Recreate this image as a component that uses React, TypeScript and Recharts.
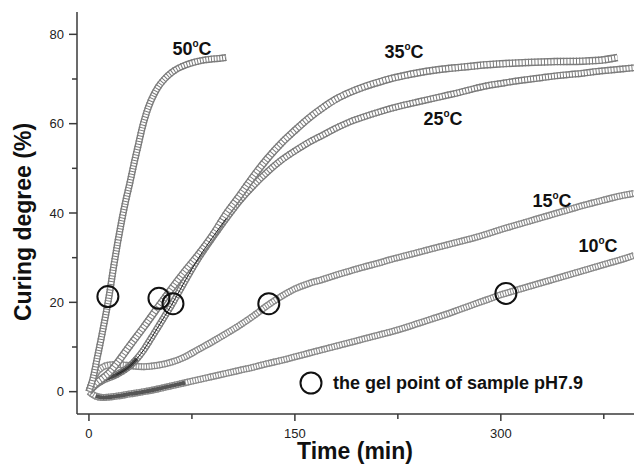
import React from 'react';
import { ComposedChart, Line, Scatter, XAxis, YAxis } from 'recharts';

// ---- data (time in min, curing degree in %) ----
const t50 = [0, 3, 6, 9, 12, 15, 18, 21, 24, 27, 30, 33, 36, 39, 42, 45, 50, 55, 60, 65, 70, 75, 80, 85, 90, 95, 100];
const c50 = [0, 3, 7.5, 12, 16.8, 22, 28, 33.5, 38.5, 43, 47, 51.3, 55.3, 59.3, 62.5, 65.0, 68.0, 70.0, 71.4, 72.4, 73.1, 73.6, 74.0, 74.3, 74.5, 74.6, 74.8];

const t35 = [0, 5, 10, 15, 20, 30, 40, 50, 60, 70, 80, 90, 100, 110, 120, 130, 140, 150, 160, 170, 180, 190, 200, 210, 220, 230, 240, 250, 260, 270, 280, 290, 300, 320, 340, 360, 375, 385];
const c35 = [0, 1.8, 3.0, 4.3, 6.2, 10.4, 14.5, 18.8, 23.0, 27.0, 30.8, 35.0, 39.8, 44.0, 48.3, 52.2, 55.6, 58.5, 61.2, 63.5, 65.5, 67.0, 68.2, 69.2, 70.1, 70.8, 71.4, 71.9, 72.3, 72.6, 72.9, 73.2, 73.4, 73.7, 73.9, 74.0, 74.3, 74.8];

const t25 = [0, 5, 10, 20, 30, 35, 40, 45, 50, 55, 60, 70, 80, 90, 100, 110, 120, 130, 140, 150, 160, 170, 180, 190, 200, 210, 220, 230, 240, 250, 260, 270, 280, 290, 300, 310, 320, 330, 340, 350, 360, 370, 380, 390, 397];
const c25 = [0, 1.5, 2.5, 3.8, 5.8, 7.4, 9.4, 11.8, 14.3, 16.8, 19.3, 24.8, 30.0, 34.5, 38.8, 42.8, 46.2, 49.2, 51.8, 53.9, 55.8, 57.4, 59.0, 60.4, 61.5, 62.5, 63.4, 64.2, 64.9, 65.6, 66.3, 67.0, 67.8, 68.5, 69.0, 69.5, 69.9, 70.3, 70.7, 71.0, 71.3, 71.7, 72.0, 72.3, 72.5];

const t15 = [0, 5, 10, 15, 20, 25, 30, 40, 50, 60, 70, 80, 90, 100, 110, 120, 130, 140, 150, 160, 170, 180, 190, 200, 210, 220, 230, 240, 250, 260, 270, 280, 290, 300, 310, 320, 330, 340, 350, 360, 370, 380, 390, 397];
const c15 = [0, 4.0, 5.5, 6.0, 6.1, 6.0, 5.8, 5.6, 5.9, 6.6, 7.8, 9.5, 11.2, 13.0, 14.9, 17.0, 19.3, 21.3, 23.0, 24.2, 25.1, 26.1, 27.0, 27.9, 28.7, 29.6, 30.4, 31.2, 32.0, 32.8, 33.6, 34.4, 35.3, 36.3, 37.2, 38.1, 39.0, 39.9, 40.8, 41.7, 42.5, 43.3, 44.0, 44.4];

const t10 = [0, 5, 10, 20, 30, 40, 50, 60, 70, 80, 90, 100, 110, 120, 130, 140, 150, 160, 170, 180, 190, 200, 210, 220, 230, 240, 250, 260, 270, 280, 290, 300, 310, 320, 330, 340, 350, 360, 370, 380, 390, 397];
const c10 = [0, -1.0, -1.3, -1.0, -0.5, 0, 0.6, 1.3, 2.0, 2.7, 3.4, 4.1, 4.8, 5.5, 6.3, 7.0, 7.8, 8.6, 9.4, 10.2, 11.0, 11.8, 12.6, 13.4, 14.3, 15.3, 16.3, 17.3, 18.4, 19.5, 20.6, 21.7, 22.6, 23.5, 24.4, 25.3, 26.2, 27.1, 28.0, 28.9, 29.8, 30.5];

const gelT = [13.8, 51, 61.2, 131, 303.7];
const gelV = [21.3, 20.9, 19.7, 19.7, 22];

const xTicks = [0, 75, 150, 225, 300, 375];
const xLabels = [0, 150, 300];
const yTicks = [0, 10, 20, 30, 40, 50, 60, 70, 80];
const yLabels = [0, 20, 40, 60, 80];

const zip = (ts: number[], vs: number[]) => ts.map((t, i) => ({ t, v: vs[i] }));
const d50 = zip(t50, c50);
const d35 = zip(t35, c35);
const d25 = zip(t25, c25);
const d15 = zip(t15, c15);
const d10 = zip(t10, c10);
const gel = zip(gelT, gelV);
const d10dark = d10.filter((p) => p.t >= 5 && p.t <= 70);
const d25dark = d25.filter((p) => p.t >= 5 && p.t <= 35);
const d25thin = d25.filter((p) => p.t >= 20 && p.t <= 100);

const FONT = '"Liberation Sans", Arial, sans-serif';
const AXIS = '#3a3a3a';

function XTick(props: any) {
  const { x, y, payload } = props;
  const major = xLabels.includes(payload.value);
  return (
    <g>
      <line x1={x} x2={x} y1={y} y2={y + (major ? 7 : 5)} stroke={AXIS} strokeWidth={1.5} />
      {major && (
        <text x={x} y={y + 24} textAnchor="middle" fontSize={13} fill="#222" fontFamily={FONT}>
          {payload.value}
        </text>
      )}
    </g>
  );
}

function YTick(props: any) {
  const { x, y, payload } = props;
  const major = yLabels.includes(payload.value);
  return (
    <g>
      <line x1={x - (major ? 8 : 5)} x2={x} y1={y} y2={y} stroke={AXIS} strokeWidth={1.5} />
      {major && (
        <text x={x - 13} y={y + 4.5} textAnchor="end" fontSize={13} fill="#222" fontFamily={FONT}>
          {payload.value}
        </text>
      )}
    </g>
  );
}

function chain(id: string, data: any[], col: string, dash: string, w: number) {
  const common = { data, dataKey: 'v', type: 'monotone' as const, dot: false, activeDot: false, isAnimationActive: false, legendType: 'none' as const };
  return [
    <Line key={id + 'a'} name={id + 'a'} {...common} stroke={col} strokeWidth={w} />,
    <Line key={id + 'b'} name={id + 'b'} {...common} stroke="#ffffff" strokeWidth={w - 2.8} />,
    <Line key={id + 'c'} name={id + 'c'} {...common} stroke={col} strokeWidth={w} strokeDasharray={dash} />,
  ];
}

const GelCircle = (props: any) => {
  const { cx, cy } = props;
  return <circle cx={cx} cy={cy} r={10.5} fill="none" stroke="#111" strokeWidth={2} />;
};

function TempLabel({ x, y, t }: { x: number; y: number; t: string }) {
  return (
    <text x={x} y={y} textAnchor="middle" fontSize={18} fontWeight="bold" fill="#111" fontFamily={FONT}>
      {t}
      <tspan fontSize={10} dy={-8}>o</tspan>
      <tspan dy={8}>C</tspan>
    </text>
  );
}

export default function App() {
  return (
    <div style={{ position: 'absolute', left: 0, top: 0, width: 634, height: 470, background: '#fff' }}>
      <ComposedChart width={634} height={470} margin={{ top: 12, right: 0, bottom: 0, left: 0 }}>
        <XAxis
          type="number"
          dataKey="t"
          domain={[-8.7, 397]}
          allowDataOverflow
          ticks={xTicks}
          tick={<XTick />}
          tickSize={0}
          tickMargin={0}
          tickLine={false}
          axisLine={{ stroke: AXIS, strokeWidth: 1.5 }}
          height={56}
          interval={0}
        />
        <YAxis
          type="number"
          dataKey="v"
          domain={[-5, 85]}
          allowDataOverflow
          ticks={yTicks}
          tick={<YTick />}
          tickSize={0}
          tickMargin={0}
          tickLine={false}
          axisLine={{ stroke: AXIS, strokeWidth: 1.5 }}
          width={77}
          interval={0}
        />
        {chain('c10', d10, '#8a8a8a', '1 1.6', 7)}
        <Line data={d10dark} dataKey="v" name="c10dark" type="monotone" dot={false} activeDot={false} stroke="#555" strokeWidth={4} isAnimationActive={false} legendType="none" />
        {chain('c15', d15, '#8a8a8a', '1 1.6', 7)}
        {chain('c25', d25, '#7c7c7c', '1 2', 7)}
        <Line data={d25dark} dataKey="v" name="c25dark" type="monotone" dot={false} activeDot={false} stroke="#4a4a4a" strokeWidth={4} isAnimationActive={false} legendType="none" />
        {chain('c35', d35, '#7c7c7c', '1 2.2', 7.5)}
        <Line data={d25thin} dataKey="v" name="c25thin" type="monotone" dot={false} activeDot={false} stroke="#222" strokeWidth={1} isAnimationActive={false} legendType="none" />
        {chain('c50', d50, '#7c7c7c', '1 1.8', 7)}
        <Scatter data={gel} dataKey="v" name="gel" shape={<GelCircle />} isAnimationActive={false} legendType="none" />
      </ComposedChart>
      <svg width={634} height={470} style={{ position: 'absolute', left: 0, top: 0, pointerEvents: 'none' }}>
        <TempLabel x={192} y={55} t="50" />
        <TempLabel x={404} y={58} t="35" />
        <TempLabel x={443} y={125} t="25" />
        <TempLabel x={552} y={207} t="15" />
        <TempLabel x={598} y={252} t="10" />
        <circle cx={311} cy={383} r={10.5} fill="none" stroke="#111" strokeWidth={2} />
        <text x={333} y={389} fontSize={18} fontWeight="bold" fill="#111" fontFamily={FONT}>
          the gel point of sample pH7.9
        </text>
        <text x={355} y={459} textAnchor="middle" fontSize={23} fontWeight="bold" fill="#111" fontFamily={FONT}>
          Time (min)
        </text>
        <text
          x={0}
          y={0}
          transform="translate(31,222) rotate(-90)"
          textAnchor="middle"
          fontSize={23}
          fontWeight="bold"
          fill="#111"
          fontFamily={FONT}
        >
          Curing degree (%)
        </text>
      </svg>
    </div>
  );
}
